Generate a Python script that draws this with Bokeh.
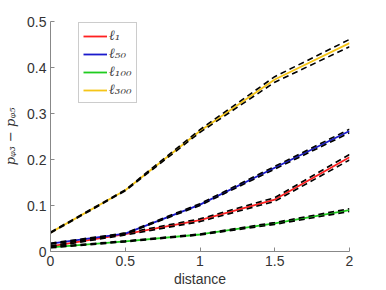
from bokeh.plotting import figure
from bokeh.models import FixedTicker, Range1d, Legend, LegendItem
from bokeh.embed import file_html
from bokeh.resources import INLINE

distance = [0, 0.5, 1, 1.5, 2]

l1 = [0.011, 0.038, 0.068, 0.113, 0.205]
l1_upper = [0.012, 0.040, 0.071, 0.117, 0.211]
l1_lower = [0.010, 0.036, 0.065, 0.109, 0.199]

l50 = [0.017, 0.039, 0.102, 0.182, 0.262]
l50_upper = [0.018, 0.040, 0.104, 0.185, 0.266]
l50_lower = [0.016, 0.038, 0.100, 0.179, 0.258]

l100 = [0.009, 0.022, 0.037, 0.061, 0.090]
l100_upper = [0.010, 0.023, 0.038, 0.063, 0.093]
l100_lower = [0.008, 0.021, 0.036, 0.059, 0.087]

l300 = [0.041, 0.133, 0.262, 0.374, 0.453]
l300_upper = [0.042, 0.134, 0.265, 0.380, 0.461]
l300_lower = [0.040, 0.132, 0.259, 0.368, 0.445]

labels = ["ℓ₁", "ℓ₅₀", "ℓ₁₀₀", "ℓ₃₀₀"]
colors = ["#ff2020", "#1a1acc", "#1fcc1f", "#f5c518"]

x_ticks = [0, 0.5, 1, 1.5, 2]
y_ticks = [0, 0.1, 0.2, 0.3, 0.4, 0.5]

p = figure(width=370, height=280, output_backend="svg", toolbar_location=None,
           x_range=Range1d(0, 2), y_range=Range1d(0, 0.5),
           min_border_left=44, min_border_top=21, min_border_right=27, min_border_bottom=29)
p.frame_width = 299
p.frame_height = 230
p.outline_line_color = None
p.grid.visible = False

series = [(l1, l1_upper, l1_lower), (l50, l50_upper, l50_lower),
          (l100, l100_upper, l100_lower), (l300, l300_upper, l300_lower)]
items = []
for (c, u, lo), col, lab in zip(series, colors, labels):
    r = p.line(distance, c, line_color=col, line_width=1.8)
    items.append(LegendItem(label=lab, renderers=[r]))
for (c, u, lo) in series:
    p.line(distance, u, line_color="black", line_width=1.6, line_dash="6 4")
    p.line(distance, lo, line_color="black", line_width=1.6, line_dash="6 4")

legend = Legend(items=items, location=(28, 148))
legend.label_text_font = "DejaVu Serif"
legend.label_text_font_style = "italic"
legend.label_text_font_size = "14px"
legend.label_height = 14
legend.glyph_height = 14
legend.glyph_width = 24
legend.spacing = 1
legend.padding = 4
legend.margin = 0
legend.label_standoff = 2
legend.border_line_color = "#999999"
legend.border_line_width = 1
legend.background_fill_alpha = 1
p.add_layout(legend, "center")

for ax in (p.xaxis[0], p.yaxis[0]):
    ax.axis_line_color = "#888888"
    ax.major_tick_line_color = "#888888"
    ax.major_tick_in = 4
    ax.major_tick_out = 0
    ax.minor_tick_line_color = None
    ax.major_label_text_font = "Liberation Sans"
    ax.major_label_text_font_size = "14px"
    ax.major_label_text_color = "#333333"
    ax.axis_label_text_color = "#333333"

p.xaxis.ticker = FixedTicker(ticks=x_ticks)
p.yaxis.ticker = FixedTicker(ticks=y_ticks)
p.xaxis.major_label_overrides = {0: "0", 0.5: "0.5", 1: "1", 1.5: "1.5", 2: "2"}
p.yaxis.major_label_overrides = {0: "0", 0.1: "0.1", 0.2: "0.2", 0.3: "0.3", 0.4: "0.4", 0.5: "0.5"}
p.xaxis.axis_label = "distance"
p.xaxis.axis_label_text_font = "Liberation Sans"
p.xaxis.axis_label_text_font_style = "normal"
p.xaxis.axis_label_text_font_size = "14px"
p.xaxis.axis_label_standoff = 2
p.yaxis.axis_label = "pᵩ₃ − pᵩ₅"
p.yaxis.axis_label_text_font = "DejaVu Serif"
p.yaxis.axis_label_text_font_style = "italic"
p.yaxis.axis_label_text_font_size = "13px"
p.yaxis.axis_label_standoff = 6
p.yaxis.major_label_standoff = 4
p.xaxis.major_label_standoff = 4

open("out.html", "w").write(file_html(p, INLINE))
